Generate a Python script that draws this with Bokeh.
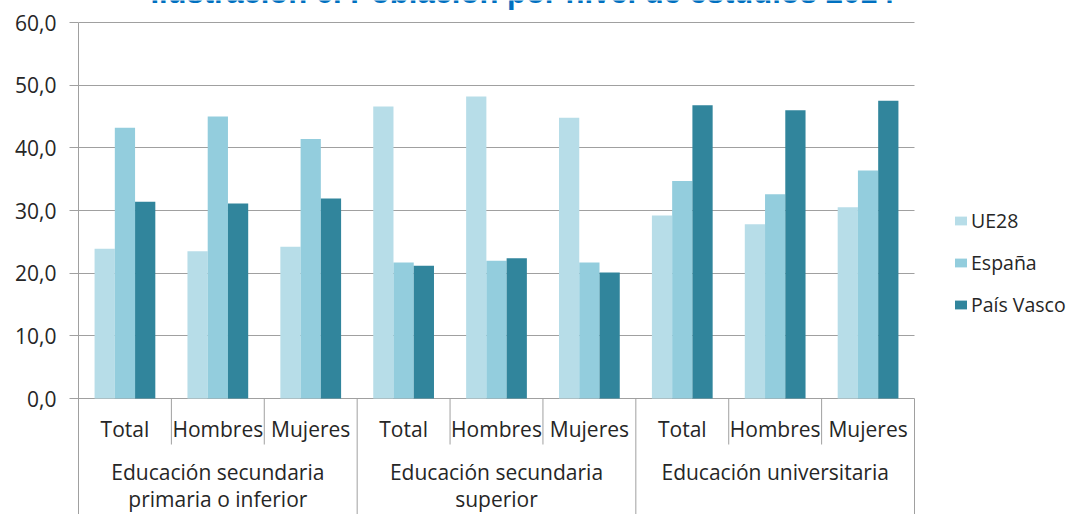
from bokeh.plotting import figure
from bokeh.models import (Range1d, FixedTicker, ColumnDataSource, Legend,
                          LegendItem, Label, Grid)
from bokeh.core.properties import value
from bokeh.embed import file_html
from bokeh.resources import INLINE

# ---------------- data ----------------
groups = ["Educación secundaria\nprimaria o inferior",
          "Educación secundaria\nsuperior",
          "Educación universitaria"]
subs = ["Total", "Hombres", "Mujeres"]
series = ["UE28", "España", "País Vasco"]
ue28 = [23.9, 23.5, 24.2, 46.6, 48.2, 44.8, 29.2, 27.8, 30.5]
espana = [43.2, 45.0, 41.4, 21.7, 22.0, 21.7, 34.7, 32.6, 36.4]
pais_vasco = [31.4, 31.1, 31.9, 21.2, 22.4, 20.1, 46.8, 46.0, 47.5]
y_ticks = [0, 10, 20, 30, 40, 50, 60]
y_tick_labels = ["0,0", "10,0", "20,0", "30,0", "40,0", "50,0", "60,0"]
title_text = "Ilustración 6. Población por nivel de estudios 2014"

colors = ["#B7DDE8", "#93CDDD", "#31859C"]
text_color = "#262626"
grid_color = "#A0A0A0"
FONT = "Open Sans"

# ---------------- layout constants ----------------
W, H = 1078, 514
LEFT = 78
cat_px = 836 / 9.0                 # pixel width of one category
ppu = 376.0 / 60.0                 # pixels per value unit
zero_px = 398                      # y pixel of value 0
y_top = 60 + 22 / ppu
y_bot = -(H - zero_px) / ppu
x_end = (W - LEFT) / cat_px


def ypix(py):
    """value-axis coordinate of a pixel row (layout helper)"""
    return (zero_px - py) / ppu


n_sub = len(subs)
labels_sub = [s for g in groups for s in subs]
n = len(labels_sub)
xc = [i + 0.5 for i in range(n)]   # category centres (one unit per category)

p = figure(width=W, height=H, output_backend="svg", toolbar_location=None,
           x_range=Range1d(0, x_end), y_range=Range1d(y_bot, y_top),
           x_axis_location=None, min_border_left=LEFT, min_border_top=0,
           min_border_bottom=0, min_border_right=0)
p.outline_line_color = None
p.background_fill_color = "white"
p.border_fill_color = "white"

# grid (only across the category area)
p.xgrid.visible = False
p.ygrid.ticker = FixedTicker(ticks=y_ticks)
p.ygrid.grid_line_color = grid_color
p.ygrid.grid_line_width = 1
if "cross_bounds" in Grid.properties():
    p.ygrid.cross_bounds = (0, n)
else:
    p.ygrid.visible = False
    p.segment(x0=[0] * len(y_ticks), x1=[n] * len(y_ticks), y0=y_ticks, y1=y_ticks,
              line_color=grid_color, line_width=1)

# y axis
ya = p.yaxis[0]
ya.ticker = FixedTicker(ticks=y_ticks)
ya.bounds = (y_bot, 60)
ya.major_label_overrides = {float(t): l for t, l in zip(y_ticks, y_tick_labels)}
ya.axis_line_color = grid_color
ya.major_tick_line_color = grid_color
ya.major_tick_out = 9
ya.major_tick_in = 0
ya.minor_tick_line_color = None
ya.major_label_standoff = 13
ya.major_label_text_font = FONT
ya.major_label_text_font_size = "21px"
ya.major_label_text_color = text_color

# bars
bw = 0.218
offs = [-bw, 0.0, bw]
values = [ue28, espana, pais_vasco]
renderers = []
for vals, off, col in zip(values, offs, colors):
    src = ColumnDataSource(dict(x=[v + off for v in xc], top=vals))
    r = p.vbar(x="x", top="top", width=bw, bottom=0, source=src,
               fill_color=col, line_color=None)
    renderers.append(r)

# category separators at the category boundaries
short_y = ypix(zero_px + 46)
xs_short = [i for i in range(n + 1) if i % n_sub != 0]
xs_long = [i for i in range(1, n + 1) if i % n_sub == 0]
p.segment(x0=xs_short, x1=xs_short, y0=[0] * len(xs_short), y1=[short_y] * len(xs_short),
          line_color=grid_color, line_width=1)
p.segment(x0=xs_long, x1=xs_long, y0=[0] * len(xs_long), y1=[y_bot] * len(xs_long),
          line_color=grid_color, line_width=1)

# sub-category labels
p.text(x=xc, y=[ypix(428)] * n, text=labels_sub,
       text_align="center", text_baseline="alphabetic", text_font=value(FONT),
       text_font_size="21px", text_color=text_color)
# group labels (two lines)
gx = [g * n_sub + n_sub / 2 for g in range(len(groups))]
line1 = [g.split("\n")[0] for g in groups]
line2 = [g.split("\n")[1] if "\n" in g else "" for g in groups]
p.text(x=gx, y=[ypix(471)] * len(groups), text=line1,
       text_align="center", text_baseline="alphabetic", text_font=value(FONT),
       text_font_size="21px", text_color=text_color)
p.text(x=gx, y=[ypix(498)] * len(groups), text=line2,
       text_align="center", text_baseline="alphabetic", text_font=value(FONT),
       text_font_size="21px", text_color=text_color)

# title (cut at the top, as in the reference)
title = Label(x=(522 - LEFT) / cat_px, y=ypix(-8), text=title_text,
              text_align="center", text_baseline="alphabetic",
              text_font="Liberation Sans", text_font_style="bold",
              text_font_size="31px", text_color="#0070C0")
p.add_layout(title)

# legend
legend = Legend(items=[LegendItem(label=s, renderers=[r]) for s, r in zip(series, renderers)],
                location=(953 - LEFT, H - 318), orientation="vertical",
                glyph_width=15, glyph_height=11, label_standoff=3,
                label_height=26, spacing=15, padding=0, margin=0,
                border_line_color=None, background_fill_alpha=0,
                label_text_font=FONT, label_text_font_size="19.5px",
                label_text_color=text_color)
p.add_layout(legend, "center")

open("out.html", "w").write(file_html(p, INLINE))
